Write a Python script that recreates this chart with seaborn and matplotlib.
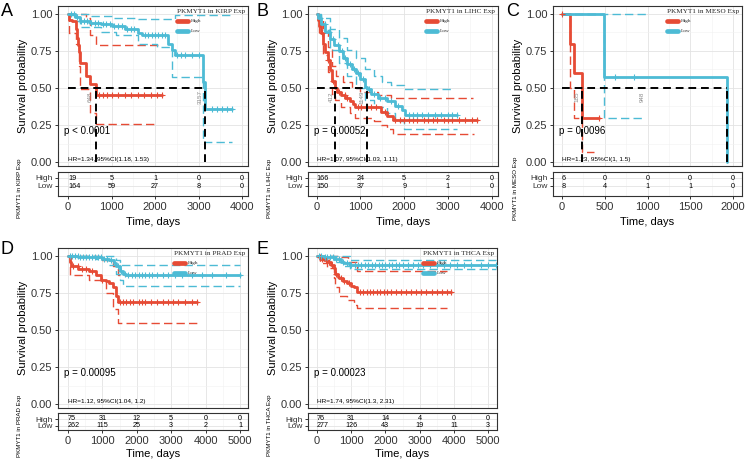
import numpy as np
import pandas as pd
import matplotlib
matplotlib.use("Agg")
import matplotlib.pyplot as plt
import seaborn as sns
from matplotlib.lines import Line2D

sns.set_theme(style="white")
plt.rcParams["font.family"] = ["Liberation Sans", "DejaVu Sans"]

RED = "#E64B35"
BLUE = "#4DBBD5"

# ================= DATA =================
# ---- Panel A : KIRP ----
A_ticks = [0, 1000, 2000, 3000, 4000]
A_high_t = [0, 20, 100, 190, 200, 230, 260, 280, 420, 510, 648, 2170]
A_high_s = [1.0, 0.96, 0.95, 0.90, 0.84, 0.79, 0.74, 0.67, 0.58, 0.53, 0.45, 0.45]
A_high_up_t = [0, 420, 510, 648, 2170]
A_high_up_s = [1.0, 0.97, 0.86, 0.79, 0.79]
A_high_lo_t = [0, 20, 190, 260, 280, 510, 648, 2000]
A_high_lo_s = [1.0, 0.87, 0.80, 0.65, 0.49, 0.33, 0.26, 0.26]
A_high_cens = [720, 800, 900, 1000, 1150, 1300, 1450, 1600, 1750, 1900, 2050, 2170]
A_low_t = [0, 150, 280, 500, 750, 1000, 1300, 1600, 1700, 2310, 2380, 2460, 3110, 3157, 3770]
A_low_s = [1.0, 0.98, 0.955, 0.94, 0.93, 0.92, 0.90, 0.87, 0.86, 0.80, 0.76, 0.72, 0.54, 0.36, 0.36]
A_low_up_t = [0, 500, 1000, 1600, 2460, 3770]
A_low_up_s = [1.0, 0.985, 0.975, 0.965, 0.99, 0.99]
A_low_lo_t = [0, 150, 280, 750, 1100, 1600, 2050, 2400, 3110, 3770]
A_low_lo_s = [0.99, 0.95, 0.91, 0.88, 0.86, 0.80, 0.78, 0.575, 0.135, 0.135]
A_low_cens = [60, 130, 210, 300, 360, 430, 520, 610, 690, 800, 880, 960, 1060, 1150, 1240,
              1350, 1450, 1520, 1780, 1850, 1920, 2000, 2080, 2150, 2230, 2500, 2600, 2700,
              2850, 3000, 3300, 3420, 3550, 3650, 3770]
A_risk_high = [19, 5, 1, 0, 0]
A_risk_low = [164, 59, 27, 8, 0]
A_medians = [648, 3157]
A_median_labels = ["648", "3157"]
A_median_label_t = [500, 3040]
A_p = "p < 0.0001"
A_hr = "HR=1.34, 95%CI(1.18, 1.53)"
A_name = "PKMYT1 in KIRP Exp"

# ---- Panel B : LIHC ----
B_ticks = [0, 1000, 2000, 3000, 4000]
B_high_t = [0, 30, 60, 100, 150, 200, 250, 300, 350, 412, 470, 550, 650, 760, 820, 880,
            1480, 1600, 1750, 3660]
B_high_s = [1.0, 0.96, 0.92, 0.87, 0.80, 0.74, 0.69, 0.62, 0.55, 0.50, 0.47, 0.45, 0.43,
            0.41, 0.39, 0.37, 0.34, 0.31, 0.285, 0.285]
B_high_up_t = [0, 60, 150, 250, 350, 450, 600, 800, 1000, 1400, 1700, 3580]
B_high_up_s = [1.0, 0.97, 0.88, 0.78, 0.65, 0.58, 0.54, 0.50, 0.47, 0.45, 0.43, 0.43]
B_high_lo_t = [0, 60, 150, 250, 350, 412, 550, 760, 880, 1300, 1480, 1600, 1750, 3600]
B_high_lo_s = [1.0, 0.87, 0.72, 0.61, 0.46, 0.42, 0.37, 0.33, 0.30, 0.28, 0.25, 0.22, 0.19, 0.19]
B_high_cens = [120, 260, 380, 520, 640, 700, 950, 1020, 1150, 1250, 1350, 1550, 1800, 1900,
               2000, 2100, 2200, 2300, 2450, 2550, 2650, 2750, 2900, 3000, 3100, 3250, 3400,
               3550, 3660]
B_low_t = [0, 40, 100, 200, 300, 400, 500, 600, 700, 800, 900, 1000, 1100, 1149, 1250, 1400,
           1600, 1800, 1950, 2020, 3200]
B_low_s = [1.0, 0.97, 0.93, 0.88, 0.83, 0.79, 0.75, 0.70, 0.66, 0.63, 0.60, 0.56, 0.51, 0.49,
           0.46, 0.43, 0.41, 0.38, 0.35, 0.32, 0.32]
B_low_up_t = [0, 100, 300, 500, 700, 900, 1100, 1300, 1500, 1700, 2000, 3100]
B_low_up_s = [1.0, 0.97, 0.90, 0.84, 0.76, 0.70, 0.63, 0.58, 0.54, 0.52, 0.49, 0.49]
B_low_lo_t = [0, 100, 300, 500, 700, 900, 1100, 1300, 1600, 1800, 2000, 3200]
B_low_lo_s = [0.99, 0.89, 0.76, 0.67, 0.58, 0.50, 0.42, 0.37, 0.33, 0.28, 0.22, 0.22]
B_low_cens = [80, 180, 280, 380, 480, 580, 650, 750, 850, 950, 1050, 1200, 1300, 1450, 1550,
              1700, 1850, 2100, 2200, 2300, 2400, 2550, 2700, 2850, 3000, 3100, 3200]
B_risk_high = [166, 24, 5, 2, 0]
B_risk_low = [150, 37, 9, 1, 0]
B_medians = [412, 1149]
B_median_labels = ["412", "1149"]
B_median_label_t = [328, 1029]
B_p = "p = 0.00052"
B_hr = "HR=1.07, 95%CI(1.03, 1.11)"
B_name = "PKMYT1 in LIHC Exp"

# ---- Panel C : MESO ----
C_ticks = [0, 500, 1000, 1500, 2000]
C_high_t = [0, 97, 140, 234, 430]
C_high_s = [1.0, 0.8, 0.6, 0.3, 0.3]
C_high_up_t = [0, 430]
C_high_up_s = [1.0, 1.0]
C_high_lo_t = [0, 97, 140, 234, 370]
C_high_lo_s = [1.0, 0.5, 0.3, 0.07, 0.07]
C_high_cens = [0, 430]
C_low_t = [0, 487, 1930]
C_low_s = [1.0, 0.571, 0.0]
C_low_up_t = [0, 487, 990]
C_low_up_s = [1.0, 1.0, 1.0]
C_low_lo_t = [0, 487, 960]
C_low_lo_s = [1.0, 0.30, 0.30]
C_low_cens = [624, 838]
C_risk_high = [6, 0, 0, 0, 0]
C_risk_low = [8, 4, 1, 1, 0]
C_medians = [234, 1930]
C_median_labels = ["185", "948"]
C_median_label_t = [175, 936]
C_p = "p = 0.0096"
C_hr = "HR=1.23, 95%CI(1, 1.5)"
C_name = "PKMYT1 in MESO Exp"

# ---- Panel D : PRAD ----
D_ticks = [0, 1000, 2000, 3000, 4000, 5000]
D_high_t = [0, 50, 100, 300, 600, 800, 950, 1100, 1200, 1300, 1400, 1456, 3740]
D_high_s = [1.0, 0.96, 0.93, 0.91, 0.90, 0.87, 0.84, 0.83, 0.82, 0.79, 0.73, 0.69, 0.69]
D_high_up_t = [0, 900, 1300, 1456, 3740]
D_high_up_s = [1.0, 0.97, 0.93, 0.87, 0.87]
D_high_lo_t = [0, 50, 600, 1100, 1300, 1456, 3740]
D_high_lo_s = [1.0, 0.87, 0.84, 0.75, 0.64, 0.55, 0.55]
D_high_cens = [150, 280, 420, 520, 700, 1000, 1500, 1600, 1700, 1800, 1900, 2050, 2150, 2250,
               2400, 2600, 2750, 2900, 3050, 3200, 3400, 3600, 3740]
D_low_t = [0, 300, 800, 1000, 1200, 1350, 1400, 1500, 1600, 1700, 5000]
D_low_s = [1.0, 0.995, 0.99, 0.98, 0.97, 0.95, 0.93, 0.90, 0.88, 0.87, 0.87]
D_low_up_t = [0, 1200, 1400, 1500, 5000]
D_low_up_s = [1.0, 1.0, 0.97, 0.94, 0.94]
D_low_lo_t = [0, 800, 1200, 1400, 1500, 1600, 5000]
D_low_lo_s = [1.0, 0.98, 0.94, 0.88, 0.84, 0.80, 0.80]
D_low_cens = [50, 120, 200, 280, 360, 450, 530, 620, 700, 780, 870, 950, 1050, 1130, 1250,
              1450, 1550, 1650, 1750, 1850, 1950, 2050, 2150, 2250, 2350, 2450, 2600, 2750,
              2900, 3100, 3300, 3600, 3900, 4200, 4600, 5000]
D_risk_high = [75, 31, 12, 5, 0, 0]
D_risk_low = [262, 115, 25, 3, 2, 1]
D_p = "p = 0.00095"
D_hr = "HR=1.12, 95%CI(1.04, 1.2)"
D_name = "PKMYT1 in PRAD Exp"

# ---- Panel E : THCA ----
E_ticks = [0, 1000, 2000, 3000, 4000, 5000]
E_high_t = [0, 50, 100, 200, 290, 400, 485, 534, 600, 631, 750, 874, 1000, 1068, 1165, 3930]
E_high_s = [1.0, 0.99, 0.98, 0.97, 0.96, 0.94, 0.92, 0.88, 0.86, 0.85, 0.83, 0.82, 0.80,
            0.79, 0.76, 0.76]
E_high_up_t = [0, 600, 900, 1165, 3800]
E_high_up_s = [1.0, 0.99, 0.96, 0.90, 0.90]
E_high_lo_t = [0, 100, 290, 485, 534, 631, 874, 1068, 1165, 3800]
E_high_lo_s = [1.0, 0.95, 0.92, 0.85, 0.79, 0.73, 0.70, 0.67, 0.65, 0.65]
E_high_cens = [80, 150, 250, 350, 450, 560, 700, 800, 950, 1250, 1350, 1450, 1550, 1650, 1750,
               1850, 1950, 2050, 2150, 2300, 2450, 2600, 2750, 2900, 3050, 3200, 3350, 3500,
               3650, 3800, 3930]
E_low_t = [0, 200, 400, 500, 700, 800, 970, 5240]
E_low_s = [1.0, 0.995, 0.99, 0.98, 0.96, 0.95, 0.94, 0.94]
E_low_up_t = [0, 970, 5240]
E_low_up_s = [1.0, 0.975, 0.975]
E_low_lo_t = [0, 500, 800, 970, 5240]
E_low_lo_s = [1.0, 0.96, 0.93, 0.91, 0.91]
E_low_cens = [60, 130, 220, 300, 380, 460, 560, 640, 750, 880, 1000, 1100, 1200, 1300, 1400,
              1500, 1600, 1700, 1800, 1900, 2000, 2100, 2200, 2300, 2400, 2500, 2650, 2800,
              2950, 3100, 3300, 3500, 3700, 3900, 4100, 4300, 4500, 4800, 5000, 5240]
E_risk_high = [76, 31, 14, 4, 0, 0]
E_risk_low = [277, 126, 43, 19, 11, 3]
E_p = "p = 0.00023"
E_hr = "HR=1.74, 95%CI(1.3, 2.31)"
E_name = "PKMYT1 in THCA Exp"

# ================= FIGURE =================
W, H = 748, 472
fig = plt.figure(figsize=(W / 100, H / 100), dpi=100)


def add_ax(l, t, r, b):
    return fig.add_axes([l / W, 1 - b / H, (r - l) / W, (b - t) / H])


ROWS = {
    "top": dict(mt=6, mb=166, y1=14, y0=162, tt=172, tb=196, hy=178, ly=186, xl=222, ly_letter=11),
    "bot": dict(mt=248, mb=408, y1=256, y0=404, tt=413, tb=430, hy=419, ly=425.7, xl=454, ly_letter=249),
}


def step_val(t_arr, s_arr, t):
    idx = np.searchsorted(np.asarray(t_arr), t, side="right") - 1
    return np.asarray(s_arr)[np.clip(idx, 0, len(s_arr) - 1)]


def style_axes(ax):
    for sp in ax.spines.values():
        sp.set_visible(True)
        sp.set_color("#333333")
        sp.set_linewidth(0.8)
    ax.set_facecolor("white")


def draw_panel(letter, letter_x, left, right, row, zero_px, last_px, ticks, curves, risk_high,
               risk_low, p_txt, hr_txt, name, medians=None, med_labels=None, med_label_t=None):
    R = ROWS[row]
    ppu = (last_px - zero_px) / (ticks[-1] - ticks[0])
    xlim = (-(zero_px - left) / ppu, ticks[-1] + (right - last_px) / ppu)
    step = ticks[1] - ticks[0]
    minor = [t + step / 2 for t in ticks[:-1]]
    if xlim[0] < -step / 2:
        minor = [-step / 2] + minor

    # ---------------- main survival axes ----------------
    ax = add_ax(left, R["mt"], right, R["mb"])
    style_axes(ax)
    pyu = R["y0"] - R["y1"]
    ax.set_ylim(-(R["mb"] - R["y0"]) / pyu, 1 + (R["y1"] - R["mt"]) / pyu)
    ax.set_xlim(*xlim)
    ax.set_xticks(ticks)
    ax.set_xticks(minor, minor=True)
    ax.set_yticks([0, 0.25, 0.5, 0.75, 1.0])
    ax.set_yticks([0.125, 0.375, 0.625, 0.875], minor=True)
    ax.set_yticklabels(["0.00", "0.25", "0.50", "0.75", "1.00"])
    ax.grid(which="major", color="#E3E3E3", lw=0.6)
    ax.grid(which="minor", color="#F1F1F1", lw=0.4)
    ax.set_axisbelow(True)
    ax.tick_params(axis="x", which="both", length=0, labelbottom=False)
    ax.tick_params(axis="y", which="major", length=2.5, width=0.7, color="#333333",
                   labelsize=8, labelcolor="#333333", pad=1.5, left=True)
    ax.tick_params(axis="y", which="minor", length=0)

    for (t, s, up_t, up_s, lo_t, lo_s, cens, col) in curves:
        sns.lineplot(x=up_t, y=up_s, ax=ax, drawstyle="steps-post", color=col, lw=1.0,
                     linestyle=(0, (6, 3)), estimator=None, sort=False, legend=False)
        sns.lineplot(x=lo_t, y=lo_s, ax=ax, drawstyle="steps-post", color=col, lw=1.0,
                     linestyle=(0, (6, 3)), estimator=None, sort=False, legend=False)
    for (t, s, up_t, up_s, lo_t, lo_s, cens, col) in curves:
        sns.lineplot(x=t, y=s, ax=ax, drawstyle="steps-post", color=col, lw=2.0,
                     estimator=None, sort=False, legend=False)
        cy = step_val(t, s, np.asarray(cens, dtype=float))
        sns.scatterplot(x=cens, y=cy, ax=ax, marker="+", s=14, color=col, linewidth=0.8,
                        legend=False, zorder=5)

    if medians:
        ax.plot([0, max(medians)], [0.5, 0.5], color="black", lw=1.4,
                linestyle=(0, (4, 2.5)), zorder=6)
        for m in medians:
            ax.plot([m, m], [0, 0.5], color="black", lw=1.4, linestyle=(0, (4, 2.5)), zorder=6)
        for lab, lt in zip(med_labels, med_label_t):
            ax.text(lt, 0.44, lab, rotation=90, fontsize=4.5, color="#8A8A8A",
                    ha="center", va="center", zorder=7)

    ax.text(xlim[0] + 0.03 * (xlim[1] - xlim[0]), 0.21,
            p_txt, fontsize=7, color="black", ha="left", va="center", zorder=8)
    ax.text(0, 0.018, hr_txt, fontsize=4.6, color="black", ha="left", va="center", zorder=8)

    ax.set_ylabel("Survival probability", fontsize=8, color="black")
    ax.yaxis.set_label_coords(-35 / (right - left), 0.5)
    ax.yaxis.label.set_va("center")
    ax.set_xlabel("")

    handles = [Line2D([0], [0], color=RED, lw=3.4), Line2D([0], [0], color=BLUE, lw=3.4)]
    leg = ax.legend(handles, ["High", "Low"], title=name, loc="upper right",
                    bbox_to_anchor=(1.0, 1.0), frameon=False, borderaxespad=0.3,
                    borderpad=0.25, handlelength=2.1, handletextpad=0.5, labelspacing=1.0,
                    prop={"family": "Liberation Serif", "size": 3.8},
                    title_fontproperties={"family": "Liberation Serif", "size": 5.2},
                    alignment="left")
    leg._legend_box.sep = 3.5
    leg.set_zorder(10)

    # ---------------- risk table ----------------
    at = add_ax(left, R["tt"], right, R["tb"])
    style_axes(at)
    pr = R["ly"] - R["hy"]
    at.set_ylim(-(R["tb"] - R["ly"]) / pr, 1 + (R["hy"] - R["tt"]) / pr)
    at.set_xlim(*xlim)
    at.set_xticks(ticks)
    at.set_xticks(minor, minor=True)
    at.set_xticklabels([str(t) for t in ticks])
    at.set_yticks([1, 0])
    at.set_yticklabels(["High", "Low"])
    at.grid(which="major", color="#E3E3E3", lw=0.6)
    at.grid(which="minor", axis="x", color="#F1F1F1", lw=0.4)
    at.set_axisbelow(True)
    at.tick_params(axis="x", which="major", length=2.5, width=0.7, color="#333333",
                   labelsize=8, labelcolor="#333333", pad=2, bottom=True)
    at.tick_params(axis="y", which="major", length=2.5, width=0.7, color="#333333",
                   labelsize=6, labelcolor="#333333", pad=1.5, left=True)
    at.tick_params(which="minor", length=0)
    for i, tk in enumerate(ticks):
        ha = "left" if i == 0 else "center"
        at.text(tk, 1, str(risk_high[i]), fontsize=5.2, ha=ha, va="center", color="black")
        at.text(tk, 0, str(risk_low[i]), fontsize=5.2, ha=ha, va="center", color="black")
    at.set_xlabel("Time, days", fontsize=8, color="black")
    tab_h = R["tb"] - R["tt"]
    at.xaxis.set_label_coords(0.5, (R["tb"] - R["xl"]) / tab_h)
    at.xaxis.label.set_va("center")
    at.set_ylabel(name, fontsize=4.4, color="black")
    at.yaxis.set_label_coords(-38 / (right - left), 0.5 - 4 / tab_h)
    at.yaxis.label.set_va("center")

    fig.text(letter_x / W, 1 - R["ly_letter"] / H, letter, fontsize=13, ha="left",
             va="center", color="black")


draw_panel("A", 1, 58, 248, "top", 68, 242, A_ticks,
           [(A_high_t, A_high_s, A_high_up_t, A_high_up_s, A_high_lo_t, A_high_lo_s, A_high_cens, RED),
            (A_low_t, A_low_s, A_low_up_t, A_low_up_s, A_low_lo_t, A_low_lo_s, A_low_cens, BLUE)],
           A_risk_high, A_risk_low, A_p, A_hr, A_name, A_medians, A_median_labels, A_median_label_t)

draw_panel("B", 256, 308, 498, "top", 316.7, 491.7, B_ticks,
           [(B_high_t, B_high_s, B_high_up_t, B_high_up_s, B_high_lo_t, B_high_lo_s, B_high_cens, RED),
            (B_low_t, B_low_s, B_low_up_t, B_low_up_s, B_low_lo_t, B_low_lo_s, B_low_cens, BLUE)],
           B_risk_high, B_risk_low, B_p, B_hr, B_name, B_medians, B_median_labels, B_median_label_t)

draw_panel("C", 506, 553, 742, "top", 562, 733, C_ticks,
           [(C_high_t, C_high_s, C_high_up_t, C_high_up_s, C_high_lo_t, C_high_lo_s, C_high_cens, RED),
            (C_low_t, C_low_s, C_low_up_t, C_low_up_s, C_low_lo_t, C_low_lo_s, C_low_cens, BLUE)],
           C_risk_high, C_risk_low, C_p, C_hr, C_name, C_medians, C_median_labels, C_median_label_t)

draw_panel("D", 1, 58, 248, "bot", 68, 240, D_ticks,
           [(D_high_t, D_high_s, D_high_up_t, D_high_up_s, D_high_lo_t, D_high_lo_s, D_high_cens, RED),
            (D_low_t, D_low_s, D_low_up_t, D_low_up_s, D_low_lo_t, D_low_lo_s, D_low_cens, BLUE)],
           D_risk_high, D_risk_low, D_p, D_hr, D_name)

draw_panel("E", 256, 308, 497, "bot", 317, 488, E_ticks,
           [(E_high_t, E_high_s, E_high_up_t, E_high_up_s, E_high_lo_t, E_high_lo_s, E_high_cens, RED),
            (E_low_t, E_low_s, E_low_up_t, E_low_up_s, E_low_lo_t, E_low_lo_s, E_low_cens, BLUE)],
           E_risk_high, E_risk_low, E_p, E_hr, E_name)

fig.savefig("out.png", dpi=100, facecolor="white")
